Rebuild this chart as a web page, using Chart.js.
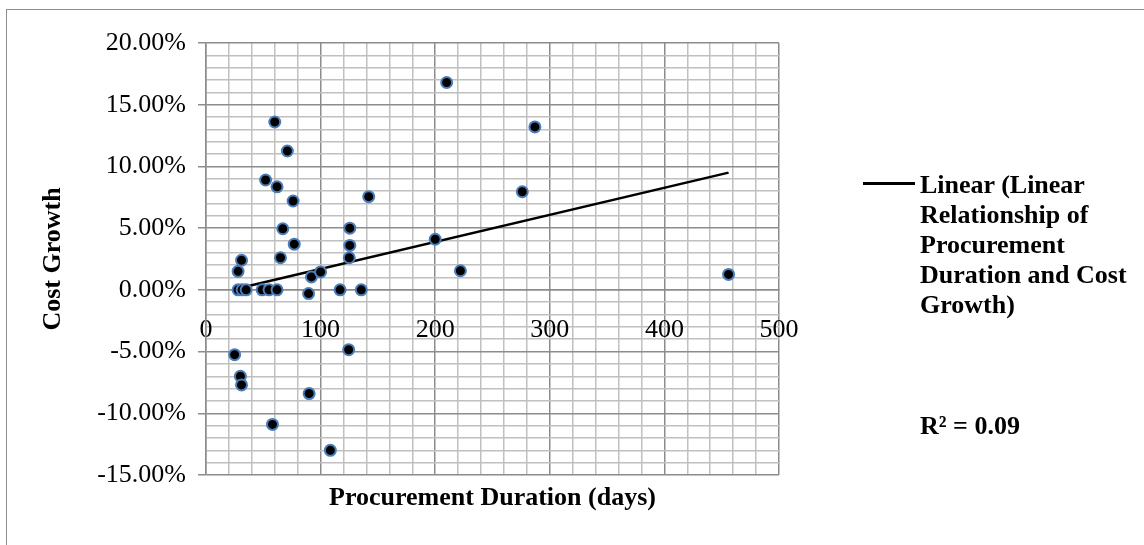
<!DOCTYPE html>
<html>
<head>
<meta charset="utf-8">
<script src="https://cdn.jsdelivr.net/npm/chart.js@4.4.0/dist/chart.umd.min.js"></script>
<style>
    html, body { margin: 0; padding: 0; background: #fff; overflow: hidden; }
    #wrap { position: relative; width: 1144px; height: 545px; }
    #frame { position: absolute; left: 6px; top: 9px; width: 1300px; height: 700px; border-left: 1.5px solid #8c8c8c; border-top: 1.5px solid #8c8c8c; }
    canvas { position: absolute; left: 0; top: 0; }
    .legend { position: absolute; font-family: "Liberation Serif", "Times New Roman", serif; font-weight: bold; font-size: 26px; line-height: 30px; color: #000; white-space: nowrap; }
    #legendLine { position: absolute; left: 863px; top: 182px; width: 52px; height: 2.5px; background: #000; }
</style>
</head>
<body>
<div id="wrap">
    <div id="frame"></div>
    <canvas id="costChart" width="1144" height="545"></canvas>
    <div id="legendLine"></div>
    <div class="legend" id="legendText" style="left:920px; top:170px;">Linear (Linear<br>Relationship of<br>Procurement<br>Duration and Cost<br>Growth)</div>
    <div class="legend" id="r2Text" style="left:920px; top:411px;">R² = 0.09</div>
</div>
<script>
// procurement duration (days) and cost growth (%)
const durationDays = [210, 287, 276, 60, 71, 52, 62, 76, 142, 67, 77, 65, 31, 28, 92, 100, 89.5,
    28, 31.5, 35, 49, 55, 62, 117, 135.5, 125.5, 125.5, 125, 200, 222, 456,
    25, 30, 31, 90, 58, 108.5, 124.5];
const costGrowth = [16.8, 13.2, 7.95, 13.6, 11.25, 8.9, 8.35, 7.2, 7.55, 4.95, 3.7, 2.6, 2.4, 1.5, 1.05, 1.45, -0.3,
    0, 0, 0, 0, 0, 0, 0, 0, 5.0, 3.6, 2.6, 4.1, 1.55, 1.25,
    -5.25, -7.0, -7.7, -8.4, -10.9, -13.0, -4.85];

// trendline end points as drawn
const trendDays = [25, 456];
const trendGrowth = [0.05, 9.5];

const xMin = 0, xMax = 500, xStep = 20, xMajor = 100;
const yMin = -15, yMax = 20, yStep = 1, yMajor = 5;

const majorGrid = '#8c8c8c';
const minorGrid = '#c0c0c0';
const tickFont = { family: '"Liberation Serif", "Times New Roman", serif', size: 26 };
const titleFont = { family: '"Liberation Serif", "Times New Roman", serif', size: 26, weight: 'bold' };

let myChart;

document.addEventListener("DOMContentLoaded", function() {
    createChart();
});

function isMajor(value, every) {
    return Math.abs(value % every) < 1e-6;
}

function createChart() {
    const points = durationDays.map((d, i) => ({ x: d, y: costGrowth[i] }));
    const trend = trendDays.map((d, i) => ({ x: d, y: trendGrowth[i] }));

    const ctx = document.getElementById("costChart").getContext("2d");
    myChart = new Chart(ctx, {
        type: 'scatter',
        data: {
            datasets: [{
                label: 'Linear Relationship of Procurement Duration and Cost Growth',
                data: points,
                backgroundColor: '#000000',
                borderColor: '#4a7ebb',
                borderWidth: 2,
                pointRadius: 5.5,
                pointHoverRadius: 5.5,
                order: 0
            }, {
                type: 'line',
                label: 'Linear (Linear Relationship of Procurement Duration and Cost Growth)',
                data: trend,
                borderColor: '#000000',
                borderWidth: 2.5,
                pointRadius: 0,
                fill: false,
                order: 1
            }]
        },
        options: {
            responsive: false,
            animation: false,
            layout: {
                padding: { left: 0, right: 365, top: 43, bottom: 0 }
            },
            plugins: {
                legend: { display: false },
                tooltip: { enabled: false }
            },
            scales: {
                x: {
                    type: 'linear',
                    position: { y: 0 },
                    min: xMin,
                    max: xMax,
                    ticks: {
                        stepSize: xStep,
                        autoSkip: false,
                        maxRotation: 0,
                        padding: 25,
                        color: '#000',
                        font: tickFont,
                        callback: (v) => isMajor(v, xMajor) ? String(v) : ''
                    },
                    grid: {
                        drawTicks: false,
                        color: (c) => isMajor(c.tick.value, xMajor) ? majorGrid : minorGrid,
                        lineWidth: 1.5
                    },
                    border: { color: majorGrid, width: 1.5 }
                },
                xTitle: {
                    type: 'linear',
                    position: 'bottom',
                    min: xMin,
                    max: xMax,
                    ticks: { display: false },
                    grid: { display: false },
                    border: { display: false },
                    title: {
                        display: true,
                        text: 'Procurement Duration (days)',
                        color: '#000',
                        font: titleFont,
                        padding: { top: 0, bottom: 31 }
                    },
                    afterFit: (scale) => { scale.height = 70; }
                },
                y: {
                    min: yMin,
                    max: yMax,
                    ticks: {
                        stepSize: yStep,
                        autoSkip: false,
                        padding: 12,
                        color: '#000',
                        font: tickFont,
                        callback: (v) => isMajor(v, yMajor) ? v.toFixed(2) + '%' : ''
                    },
                    grid: {
                        tickLength: 8,
                        color: (c) => isMajor(c.tick.value, yMajor) ? majorGrid : minorGrid,
                        tickColor: (c) => isMajor(c.tick.value, yMajor) ? majorGrid : 'rgba(0,0,0,0)',
                        lineWidth: 1.5
                    },
                    border: { color: majorGrid, width: 1.5 },
                    title: {
                        display: true,
                        text: 'Cost Growth',
                        color: '#000',
                        font: titleFont,
                        padding: { top: 38, bottom: 0 }
                    },
                    afterFit: (scale) => { scale.width = 206; }
                }
            }
        }
    });
}
</script>
</body>
</html>
